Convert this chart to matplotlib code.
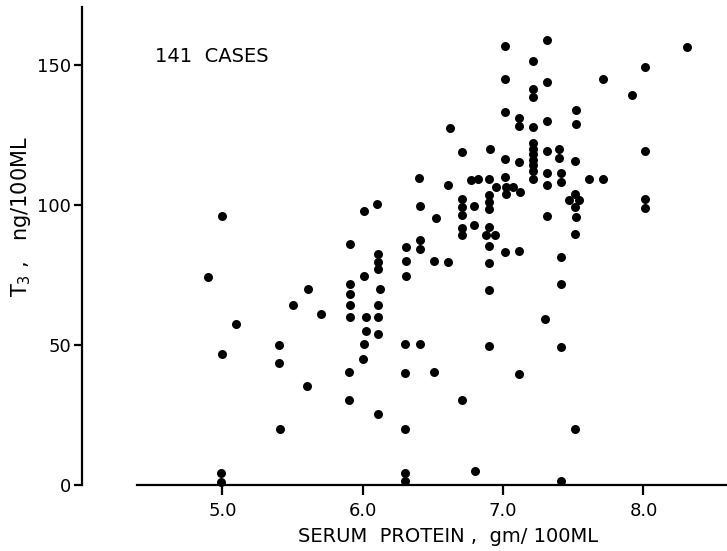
import numpy as np
import matplotlib.pyplot as plt

# serum protein (gm/100ML) and T3 (ng/100ML)
protein = [
    5.00, 4.90, 5.61, 5.50, 5.705, 5.10, 5.40, 5.00, 5.40, 5.60, 5.41, 4.99, 4.99,
    6.71, 6.40, 6.61, 6.77, 6.82, 6.90, 6.10, 6.01, 6.41, 6.71, 6.71, 6.71, 6.79,
    6.90, 6.90, 6.90, 6.52, 6.71, 6.71, 6.79, 6.88, 6.90, 6.90, 5.91, 6.31, 6.41,
    6.41, 6.11, 6.11, 6.11, 6.31, 6.51, 6.61, 6.90, 6.01, 6.31, 5.91, 5.91, 5.91,
    5.91, 6.12, 6.90, 6.02, 6.11, 6.11, 6.02, 6.11, 6.01, 6.30, 6.41, 6.90, 6.00,
    5.90, 6.30, 6.51, 5.90, 6.11, 6.71, 6.30, 6.80, 6.30, 6.30,
    7.01, 7.31, 7.21, 8.01, 7.01, 7.31, 7.71, 7.92, 7.21, 7.21, 7.01, 7.52, 7.52,
    7.11, 7.11, 7.21, 7.31, 6.91, 7.21, 7.21, 7.21, 7.21, 7.21, 7.21, 7.21, 7.31,
    7.40, 7.40, 7.51, 7.01, 7.11, 7.31, 7.41, 7.41, 7.31, 7.61, 7.71, 8.01, 8.01,
    8.01, 7.01, 6.95, 7.02, 7.07, 7.02, 7.12, 7.47, 7.51, 7.54, 7.51, 7.52, 7.31,
    7.51, 6.94, 7.01, 7.11, 7.41,
    7.41, 7.30, 7.41, 7.11, 7.51, 7.41, 8.31, 6.62,
]
t3 = [
    96.2, 74.3, 70.0, 64.2, 61.2, 57.5, 50.0, 46.9, 43.5, 35.2, 20.1, 4.4, 1.2,
    118.8, 109.8, 107.3, 108.9, 109.2, 109.3, 100.2, 97.9, 99.6, 102.0, 99.2, 96.3, 99.6,
    103.6, 101.2, 98.5, 95.5, 91.9, 89.3, 92.9, 89.2, 92.3, 85.5, 86.2, 85.0, 87.5,
    84.3, 82.6, 79.8, 77.0, 80.1, 79.9, 79.8, 79.2, 74.5, 74.6, 71.9, 68.3, 64.4,
    60.1, 70.1, 69.6, 59.9, 64.3, 59.9, 55.0, 53.9, 50.2, 50.4, 50.2, 49.8, 44.9,
    40.4, 40.1, 40.2, 30.4, 25.5, 30.4, 19.9, 5.0, 4.2, 1.4,
    156.8, 159.0, 151.4, 149.4, 145.0, 143.8, 144.9, 139.2, 141.4, 138.6, 133.1, 133.9, 128.8,
    131.2, 128.3, 128.0, 129.9, 120.0, 122.1, 119.9, 118.1, 116.1, 114.2, 112.3, 109.4, 119.4,
    120.0, 116.9, 115.8, 116.3, 115.5, 111.5, 111.4, 108.3, 107.3, 109.2, 109.2, 119.2, 102.1,
    99.0, 110.1, 106.5, 106.5, 106.5, 103.9, 104.5, 101.8, 103.9, 101.8, 99.4, 95.8, 96.1,
    89.5, 89.3, 83.1, 83.6, 81.5,
    71.8, 59.4, 49.4, 39.8, 20.0, 1.5, 156.5, 127.4,
]

xticks = [5.0, 6.0, 7.0, 8.0]
xticklabels = ["5.0", "6.0", "7.0", "8.0"]
yticks = [0, 50, 100, 150]

plt.rcParams['font.family'] = 'DejaVu Sans'

fig = plt.figure(figsize=(7.27, 5.51), dpi=100)
ax = fig.add_axes([82/727, 66/551, 645/727, 478/551])

ax.scatter(protein, t3, s=42, c='black', linewidths=0, clip_on=False, zorder=3)

ax.set_xlim(4.0, 8.595)
ax.set_ylim(0, 170.7)

for s in ['top', 'right']:
    ax.spines[s].set_visible(False)
ax.spines['left'].set_linewidth(1.6)
ax.spines['bottom'].set_linewidth(1.6)
ax.spines['bottom'].set_bounds(4.395, 8.595)

ax.set_xticks(xticks)
ax.set_xticklabels(xticklabels)
ax.set_yticks(yticks)
ax.tick_params(axis='x', direction='out', length=7, width=1.6, pad=5, labelsize=13)
ax.tick_params(axis='y', direction='out', length=6, width=1.6, pad=2, labelsize=13)

ax.text(4.52, 152.9, "141  CASES", fontsize=14, ha='left', va='center')

fig.text(21/727, 1 - 217/551, "T$_3$ ,   ng/100ML", rotation=90, fontsize=15,
         ha='center', va='center')
fig.text(448/727, 1 - 537/551, "SERUM  PROTEIN ,  gm/ 100ML", fontsize=14,
         ha='center', va='center')

fig.savefig("out.png", dpi=100)
